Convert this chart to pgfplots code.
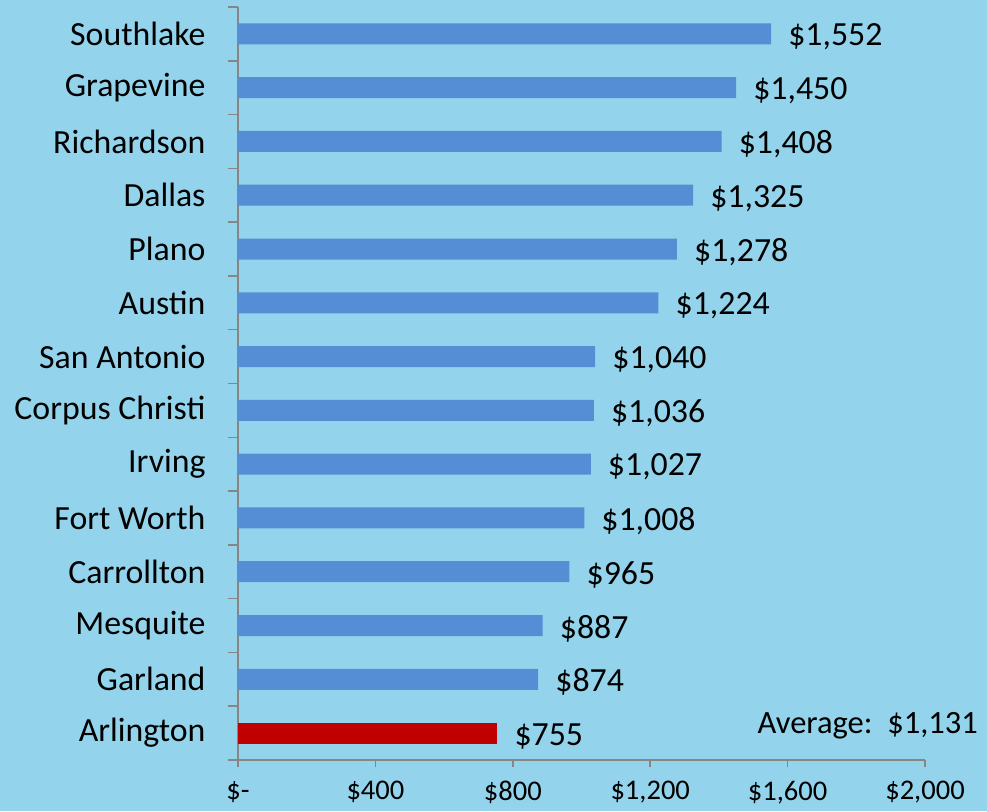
\documentclass[border=0pt]{standalone}
\usepackage{pgfplots}
\pgfplotsset{compat=1.18}
\usepackage{fontspec}
\setmainfont{Carlito}
\usetikzlibrary{backgrounds}
\definecolor{bg}{RGB}{147,212,236}
\definecolor{barblue}{RGB}{85,142,213}
\definecolor{barred}{RGB}{192,0,0}
\definecolor{axgray}{RGB}{134,134,134}
\begin{document}
\begin{tikzpicture}
\begin{axis}[
 name=ax, at={(0,0)}, anchor=south west,
 scale only axis, width=687pt, height=753pt,
 xmin=0, xmax=2000, ymin=-0.5, ymax=13.5,
 axis x line*=bottom, axis y line*=left,
 axis line style={draw=axgray, line width=1.5pt, -},
 xtick={0,400,...,2000},
 xticklabels={\$-,\$400,\$800,{\$1,200},{\$1,600},{\$2,000}},
 ytick={0,...,13},
 yticklabels={Arlington,Garland,Mesquite,Carrollton,Fort Worth,Irving,Corpus Christi,San Antonio,Austin,Plano,Dallas,Richardson,Grapevine,Southlake},
 minor ytick={-0.5,0.5,...,13.5},
 tick align=outside,
 major tick length=7pt, minor tick length=10pt,
 tick style={draw=axgray, line width=1.5pt},
 every major y tick/.append style={draw=none},
 x tick label style={font=\fontsize{28.5}{32}\selectfont, inner sep=2pt, yshift=-12pt},
 y tick label style={font=\fontsize{33.8}{40}\selectfont, xshift=-22pt},
 xbar, bar width=21pt, bar shift=0pt,
 clip=false,
 nodes near coords, point meta=explicit symbolic,
 every node near coord/.append style={font=\fontsize{33.8}{40}\selectfont, black, anchor=west, inner sep=0pt, xshift=17pt, yshift=-3pt},
]
\addplot[fill=barblue, draw=none] table[x=x, y=y, meta=label] {
x y label
1552 13 \$1,552
1450 12 \$1,450
1408 11 \$1,408
1325 10 \$1,325
1278 9 \$1,278
1224 8 \$1,224
1040 7 \$1,040
1036 6 \$1,036
1027 5 \$1,027
1008 4 \$1,008
965 3 \$965
887 2 \$887
874 1 \$874
};
\addplot[fill=barred, draw=none] table[x=x, y=y, meta=label] {
x y label
755 0 \$755
};
\node[anchor=base east, font=\fontsize{32.5}{38}\selectfont, inner sep=0pt] at (axis cs:2154,0) {Average:\ \ \$1,131};
\end{axis}
\begin{scope}[on background layer]
\fill[bg] (-238pt,-51pt) rectangle (749pt,760pt);
\end{scope}
\end{tikzpicture}
\end{document}
